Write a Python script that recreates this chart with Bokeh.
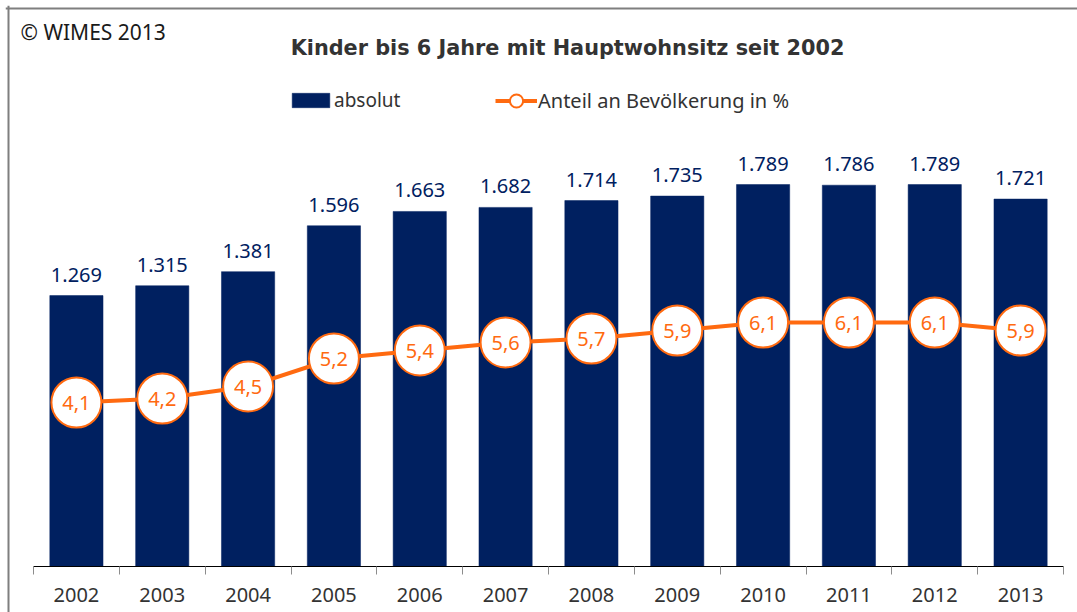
from bokeh.plotting import figure
from bokeh.models import (ColumnDataSource, Range1d, FixedTicker, LabelSet, Label,
                          Legend, LegendItem, Span)
from bokeh.core.properties import value
from bokeh.embed import file_html
from bokeh.resources import INLINE

# ---- data ----
years = ["2002", "2003", "2004", "2005", "2006", "2007",
         "2008", "2009", "2010", "2011", "2012", "2013"]
absolut = [1269, 1315, 1381, 1596, 1663, 1682, 1714, 1735, 1789, 1786, 1789, 1721]
anteil = [4.1, 4.2, 4.5, 5.2, 5.4, 5.6, 5.7, 5.9, 6.1, 6.1, 6.1, 5.9]

title_text = "Kinder bis 6 Jahre mit Hauptwohnsitz seit 2002"
copyright_text = "\u00a9 WIMES 2013"
legend_abs = "absolut"
legend_pct = "Anteil an Bev\u00f6lkerung in %"

# ---- styles / layout ----
NAVY = "#002060"
ORANGE = "#FF6A10"
FONT = "Noto Sans"
BORDER = "#7f7f7f"

W, H = 1077, 612
FR_L, FR_T = 5, 5            # frame top-left, page px
BD = 8                       # grey border line position, page px
AX_L, AX_R, AX_Y = 33, 1063, 566   # axis extent / baseline, page px
n = len(years)
cat_px = (AX_R - AX_L) / n
px_per_abs = 0.2135
px_per_pct = 40.0

x0 = -0.5 - (AX_L - FR_L) / cat_px
x1 = n - 0.5 + (W - AX_R) / cat_px
ya0 = -(H - AX_Y) / px_per_abs
ya1 = (AX_Y - FR_T) / px_per_abs
yp0 = -(H - AX_Y) / px_per_pct
yp1 = (AX_Y - FR_T) / px_per_pct

idx = list(range(n))
src = ColumnDataSource(dict(
    x=idx,
    top=absolut,
    pct=anteil,
    abs_lbl=[f"{v:,}".replace(",", ".") for v in absolut],
    pct_lbl=[f"{v:.1f}".replace(".", ",") for v in anteil],
))

p = figure(width=W, height=H, output_backend="svg", toolbar_location=None,
           x_range=Range1d(x0, x1), y_range=Range1d(ya0, ya1),
           min_border_left=FR_L, min_border_top=FR_T, min_border_right=0,
           min_border_bottom=0, outline_line_color=None,
           background_fill_color="white", border_fill_color="white")
p.extra_y_ranges = {"pct": Range1d(yp0, yp1)}

p.xgrid.visible = False
p.ygrid.visible = False
p.yaxis.visible = False

# grey frame lines (left and top) of the chart area
p.add_layout(Span(location=x0 + (BD - FR_L) / cat_px, dimension="height",
                  line_color=BORDER, line_width=2))
p.add_layout(Span(location=ya1 - (BD - FR_T) / px_per_abs, dimension="width",
                  line_color=BORDER, line_width=2))

bars = p.vbar(x="x", top="top", bottom=0, width=0.62, source=src, fill_color=NAVY,
              line_color=NAVY, line_width=0.5)

line = p.line(x="x", y="pct", source=src, line_color=ORANGE, line_width=4,
              y_range_name="pct")
dots = p.scatter(x="x", y="pct", source=src, size=50, fill_color="white",
                 line_color=ORANGE, line_width=2, y_range_name="pct")

p.add_layout(LabelSet(x="x", y="top", text="abs_lbl", source=src,
                      text_align="center", text_baseline="alphabetic", y_offset=14,
                      text_color=NAVY, text_font=value(FONT), text_font_size="20px"))
p.add_layout(LabelSet(x="x", y="pct", text="pct_lbl", source=src,
                      y_range_name="pct", text_align="center", text_baseline="middle",
                      text_color=ORANGE, text_font=value(FONT), text_font_size="20px"))

# x axis: inside the frame at y=0, labels at centres, ticks at boundaries
ax = p.xaxis[0]
ax.fixed_location = 0
ax.bounds = (-0.5, n - 0.5)
ax.ticker = FixedTicker(ticks=idx, minor_ticks=[i - 0.5 for i in range(n + 1)])
ax.major_label_overrides = {i: y for i, y in zip(idx, years)}
ax.major_tick_line_color = None
ax.major_tick_out = 0
ax.major_tick_in = 0
ax.minor_tick_in = 0
ax.minor_tick_out = 8
ax.minor_tick_line_color = "#8c8c8c"
ax.axis_line_color = "black"
ax.axis_line_width = 1.2
ax.major_label_standoff = 13
ax.major_label_text_font = FONT
ax.major_label_text_font_size = "20px"
ax.major_label_text_color = "#333333"


def sx(px):
    return px - FR_L


def sy(py):
    return H - py


p.add_layout(Label(x=sx(567), y=sy(47), x_units="screen", y_units="screen",
                   text=title_text, text_align="center", text_baseline="middle",
                   text_font="DejaVu Sans", text_font_style="bold",
                   text_font_size="20.8px", text_color="#333333"))
p.add_layout(Label(x=sx(20), y=sy(31), x_units="screen", y_units="screen",
                   text=copyright_text, text_align="left", text_baseline="middle",
                   text_font=FONT, text_font_size="21px", text_color="#1a1a1a"))

# legends
leg1 = Legend(items=[LegendItem(label=legend_abs, renderers=[bars])],
              location=(sx(287), sy(113)))
leg1.glyph_width = 47
leg1.glyph_height = 18
leg1.label_standoff = 0
leg1.label_text_font_size = "19px"
leg2 = Legend(items=[LegendItem(label=legend_pct, renderers=[line, dots])],
              location=(sx(495), sy(117)))
leg2.glyph_width = 42
leg2.glyph_height = 33
leg2.label_standoff = 1
leg2.label_text_font_size = "20px"
for lg in (leg1, leg2):
    lg.orientation = "horizontal"
    lg.padding = 0
    lg.margin = 0
    lg.border_line_color = None
    lg.background_fill_alpha = 0
    lg.label_text_font = FONT
    lg.label_text_color = "#333333"
    p.add_layout(lg)

open("out.html", "w").write(file_html(p, INLINE))
